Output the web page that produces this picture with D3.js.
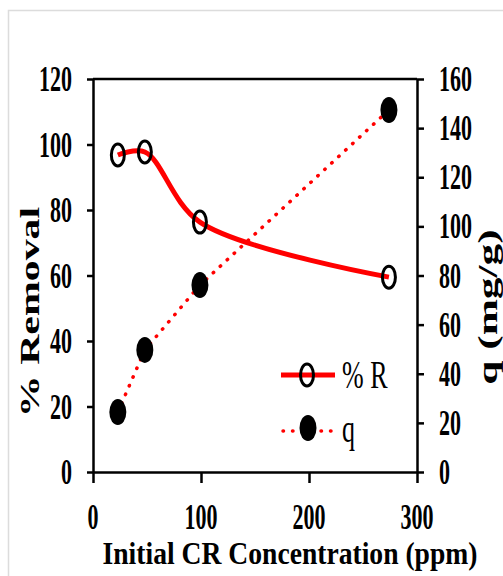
<!DOCTYPE html>
<html>
<head>
<meta charset="utf-8">
<script src="https://cdn.jsdelivr.net/npm/d3@7"></script>
<style>
  body { margin: 0; background: #fff; }
  svg { display: block; }
</style>
</head>
<body>
<svg id="chart"></svg>
<script>
// values
const concentration = [23, 48, 99, 274];      // initial CR concentration (ppm)
const removal = [96.8, 97.7, 76.3, 59.5];     // % R (left axis)
const capacity = [24.4, 49.7, 76.1, 147.4];   // q mg/g (right axis)
const xTicks = [0, 100, 200, 300];
const leftTicks = [0, 20, 40, 60, 80, 100, 120];
const rightTicks = [0, 20, 40, 60, 80, 100, 120, 140, 160];

function main() {
    const width = 503;
    const height = 576;
    const left = 93, right = 417, top = 79, bottom = 472;
    const stretch = 1.6;   // the original figure is stretched vertically
    const serif = "'Liberation Serif', 'Times New Roman', serif";

    let svg = d3.select("#chart")
        .attr("width", width)
        .attr("height", height);

    // light frame round the chart
    svg.append("path")
        .attr("d", `M8.5,${height}V10.5H${width}`)
        .attr("fill", "none")
        .attr("stroke", "#dcdcdc")
        .attr("stroke-width", 1.5);

    const x = d3.scaleLinear().domain([0, 300]).range([left, right]);
    const yL = d3.scaleLinear().domain([0, 120]).range([bottom, top]);
    const yR = d3.scaleLinear().domain([0, 160]).range([bottom, top]);

    // scaled text helper
    let label = function(g, px, py, str, size, anchor, weight, sx, sy, rot) {
        return g.append("text")
            .attr("transform", `translate(${px},${py})` + (rot ? ` rotate(${rot})` : "") + ` scale(${sx},${sy})`)
            .attr("text-anchor", anchor)
            .attr("font-family", serif)
            .attr("font-weight", weight)
            .attr("font-size", size)
            .attr("fill", "#000")
            .text(str);
    }

    // top border of plot area
    svg.append("line")
        .attr("x1", left).attr("x2", right)
        .attr("y1", top).attr("y2", top)
        .attr("stroke", "#000").attr("stroke-width", 2.5);

    // axes
    let axisStyle = function(g) {
        g.selectAll("path, line").attr("stroke", "#000").attr("stroke-width", 2.5);
        g.selectAll("text").remove();
    }
    svg.append("g")
        .attr("transform", `translate(${left},0)`)
        .call(d3.axisLeft(yL).tickValues(leftTicks).tickSize(6).tickSizeOuter(0).tickFormat(""))
        .call(axisStyle);
    svg.append("g")
        .attr("transform", `translate(${right},0)`)
        .call(d3.axisRight(yR).tickValues(rightTicks).tickSize(7).tickSizeOuter(0).tickFormat(""))
        .call(axisStyle);
    svg.append("g")
        .attr("transform", `translate(0,${bottom})`)
        .call(d3.axisBottom(x).tickValues(xTicks).tickSize(11).tickSizeOuter(0).tickFormat(""))
        .call(axisStyle);

    // tick labels
    let labels = svg.append("g");
    leftTicks.forEach(v => label(labels, 72, yL(v) + 12, v, 22, "end", "bold", 1, stretch));
    rightTicks.forEach(v => label(labels, 439, yR(v) + 12, v, 22, "start", "bold", 1, stretch));
    xTicks.forEach(v => label(labels, x(v), 529, v, 22, "middle", "bold", 1, stretch));

    // axis titles
    label(svg, 290, 564, "Initial CR Concentration (ppm)", 27, "middle", "bold", 1, 1.17)
        .attr("textLength", 375).attr("lengthAdjust", "spacingAndGlyphs");
    label(svg, 39, 312, "% Removal", 27, "middle", "bold", 1.55, 1, -90);
    label(svg, 497, 307, "q (mg/g)", 28, "middle", "bold", 1.55, 1, -90);

    // q series: red dotted straight line
    const qLine = d3.line()
        .x((d, i) => x(concentration[i]))
        .y(d => yR(d));
    svg.append("path")
        .datum(capacity)
        .attr("d", qLine)
        .attr("fill", "none")
        .attr("stroke", "#ff0000")
        .attr("stroke-width", 3.5)
        .attr("stroke-linecap", "round")
        .attr("stroke-dasharray", "0.5 9");

    // %R series: red smoothed line
    const rLine = d3.line()
        .x((d, i) => x(concentration[i]))
        .y(d => yL(d))
        .curve(d3.curveCatmullRom.alpha(0.5));
    svg.append("path")
        .datum(removal)
        .attr("d", rLine)
        .attr("fill", "none")
        .attr("stroke", "#ff0000")
        .attr("stroke-width", 5);

    // markers
    svg.append("g")
        .selectAll("ellipse")
        .data(capacity)
        .join("ellipse")
        .attr("cx", (d, i) => x(concentration[i]))
        .attr("cy", d => yR(d))
        .attr("rx", 8.5)
        .attr("ry", 13)
        .attr("fill", "#000");
    svg.append("g")
        .selectAll("ellipse")
        .data(removal)
        .join("ellipse")
        .attr("cx", (d, i) => x(concentration[i]))
        .attr("cy", d => yL(d))
        .attr("rx", 6.5)
        .attr("ry", 11)
        .attr("fill", "none")
        .attr("stroke", "#000")
        .attr("stroke-width", 3);

    // legend
    let legend = svg.append("g");
    legend.append("line")
        .attr("x1", 281).attr("x2", 335).attr("y1", 375).attr("y2", 375)
        .attr("stroke", "#ff0000").attr("stroke-width", 5);
    legend.append("ellipse")
        .attr("cx", 307).attr("cy", 375).attr("rx", 6.5).attr("ry", 11)
        .attr("fill", "none").attr("stroke", "#000").attr("stroke-width", 3);
    label(legend, 342, 388, "% R", 26, "start", "normal", 1, 1.5);

    legend.append("line")
        .attr("x1", 283).attr("x2", 333).attr("y1", 431).attr("y2", 431)
        .attr("stroke", "#ff0000").attr("stroke-width", 3.5)
        .attr("stroke-linecap", "round").attr("stroke-dasharray", "0.5 9");
    legend.append("ellipse")
        .attr("cx", 308).attr("cy", 428).attr("rx", 8.5).attr("ry", 13)
        .attr("fill", "#000");
    label(legend, 342, 442, "q", 26, "start", "normal", 1, 1.5);
}

main();
</script>
</body>
</html>
